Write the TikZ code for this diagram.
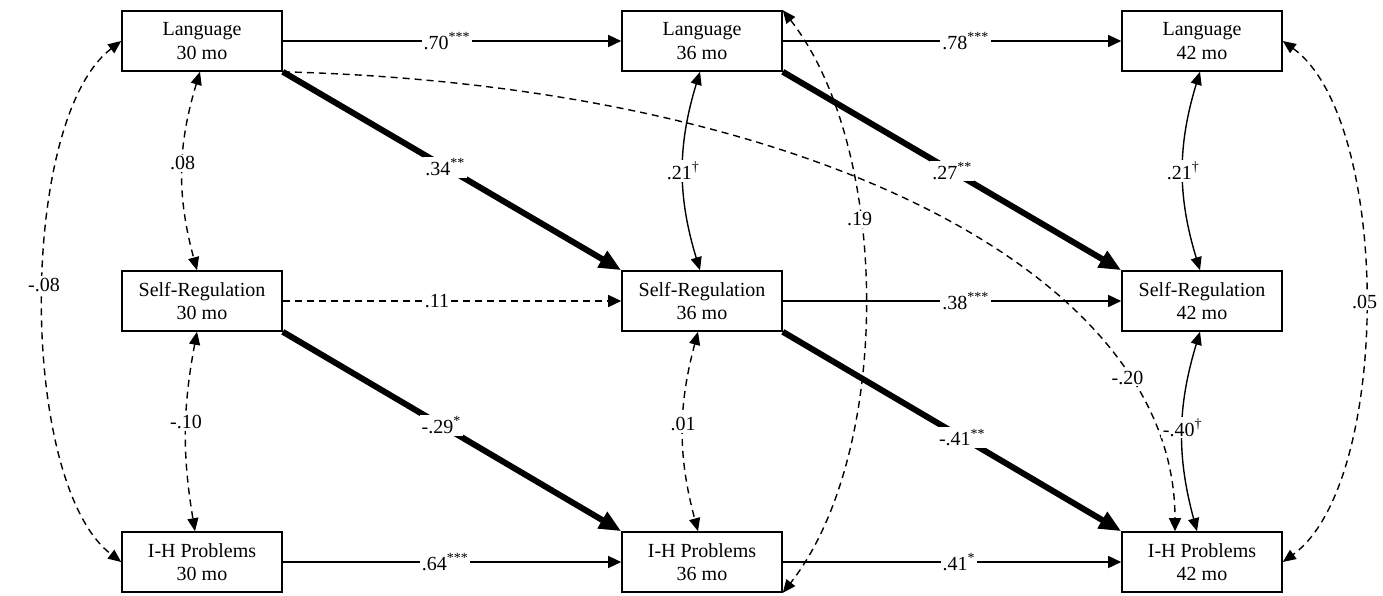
\documentclass[tikz,border=0pt]{standalone}
\usepackage{fontspec}
\setmainfont{Liberation Serif}
\usetikzlibrary{arrows.meta}
\newcommand\fsz{\fontsize{20}{23.5}\selectfont}
\begin{document}
\begin{tikzpicture}[x=1pt,y=-1pt,
  box/.style={draw, line width=1.6pt, minimum width=160pt, minimum height=60pt, align=center, inner sep=0pt, font=\fsz},
  lab/.style={fill=white, inner sep=2pt, font=\fsz},
  reg/.style={line width=1.4pt, -{Triangle[length=13pt,width=12pt]}},
  heavy/.style={line width=6pt, -{Triangle[length=22pt,width=18pt]}},
  dsh/.style={dash pattern=on 7pt off 5pt},
  cov/.style={line width=1.4pt, {Triangle[length=13pt,width=11pt]}-{Triangle[length=13pt,width=11pt]}},
]
\useasboundingbox (0,0) rectangle (1383,595);
% boxes
\node[box] (L30) at (202,41) {Language\\30 mo};
\node[box] (L36) at (702,41) {Language\\36 mo};
\node[box] (L42) at (1202,41) {Language\\42 mo};
\node[box] (S30) at (202,301) {Self-Regulation\\30 mo};
\node[box] (S36) at (702,301) {Self-Regulation\\36 mo};
\node[box] (S42) at (1202,301) {Self-Regulation\\42 mo};
\node[box] (H30) at (202,562) {I-H Problems\\30 mo};
\node[box] (H36) at (702,562) {I-H Problems\\36 mo};
\node[box] (H42) at (1202,562) {I-H Problems\\42 mo};
% long dashed covariances and cross-lag
\draw[cov,dsh] (L30.west) .. controls (18,120) and (18,483) .. node[lab,pos=.475]{-.08} (H30.west);
\draw[cov,dsh] (L42.east) .. controls (1392,120) and (1392,483) .. node[lab,pos=.5]{.05} (H42.east);
\draw[cov,dsh] (L36.north east) .. controls (892,150) and (892,454) .. node[lab,pos=.375]{.19} (H36.south east);
\draw[reg,dsh] (L30.south east) .. controls (800,85) and (1175,270) .. node[lab,pos=.79]{-.20} ([xshift=-27pt]H42.north);
% autoregressive paths
\draw[reg] (L30) -- node[lab,pos=.485]{.70\textsuperscript{***}} (L36);
\draw[reg] (L36) -- node[lab,pos=.54]{.78\textsuperscript{***}} (L42);
\draw[reg,dsh] (S30) -- node[lab,pos=.456]{.11} (S36);
\draw[reg] (S36) -- node[lab,pos=.54]{.38\textsuperscript{***}} (S42);
\draw[reg] (H30) -- node[lab,pos=.48]{.64\textsuperscript{***}} (H36);
\draw[reg] (H36) -- node[lab,pos=.52]{.41\textsuperscript{*}} (H42);
% heavy cross-lagged paths
\draw[heavy] (L30.south east) -- node[lab,pos=.48]{.34\textsuperscript{**}} (S36.north west);
\draw[heavy] (L36.south east) -- node[lab,pos=.5]{.27\textsuperscript{**}} (S42.north west);
\draw[heavy] (S30.south east) -- node[lab,pos=.468]{-.29\textsuperscript{*}} (H36.north west);
\draw[heavy] (S36.south east) -- node[lab,pos=.53]{-.41\textsuperscript{**}} (H42.north west);
% within-time covariances
\draw[cov,dsh] ([xshift=-2pt]L30.south) to[bend right=16] node[lab,pos=.46]{.08} ([xshift=-5pt]S30.north);
\draw[cov,dsh] ([xshift=-5pt]S30.south) to[bend right=10] node[lab,pos=.45]{-.10} ([xshift=-7pt]H30.north);
\draw[cov] ([xshift=-2pt]L36.south) to[bend right=17] node[lab,pos=.5]{.21\textsuperscript{†}} ([xshift=-2pt]S36.north);
\draw[cov,dsh] ([xshift=-4pt]S36.south) to[bend right=15] node[lab,pos=.46]{.01} ([xshift=-4pt]H36.north);
\draw[cov] ([xshift=-2pt]L42.south) to[bend right=17] node[lab,pos=.5]{.21\textsuperscript{†}} ([xshift=-2pt]S42.north);
\draw[cov] ([xshift=-2pt]S42.south) to[bend right=16] node[lab,pos=.48]{-.40\textsuperscript{†}} ([xshift=-5pt]H42.north);
\end{tikzpicture}
\end{document}
